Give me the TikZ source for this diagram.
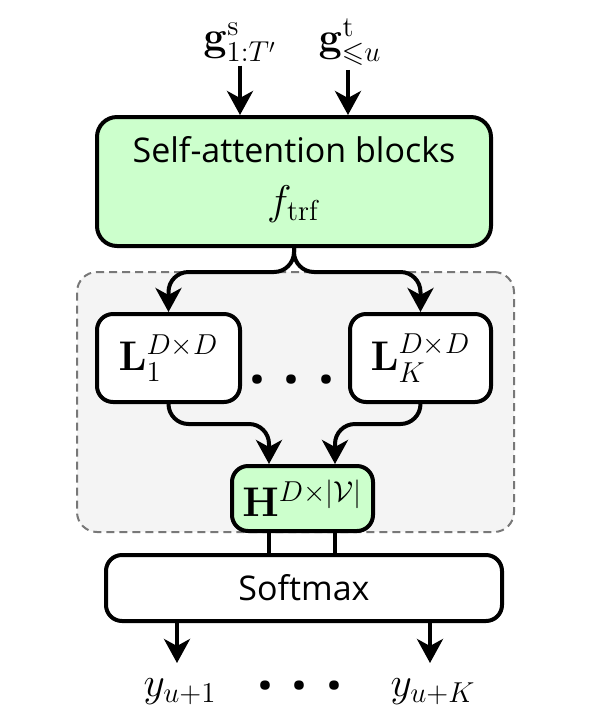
\documentclass[tikz,border=0pt]{standalone}
\usepackage{amsmath,amssymb}
\usepackage[no-math]{fontspec}
\newfontfamily\sketchfont{Open Sans}
\usetikzlibrary{arrows.meta}
\definecolor{boxgreen}{RGB}{204,255,204}
\definecolor{grpfill}{RGB}{244,244,244}
\definecolor{grpline}{RGB}{120,120,120}
\begin{document}
\begin{tikzpicture}[x=0.5pt,y=-0.5pt,
  box/.style={draw, line width=2pt, rounded corners=8pt, inner sep=0pt, fill=white},
  greenbox/.style={box, fill=boxgreen},
  arr/.style={line width=2pt, -{Stealth[length=12pt,width=13pt,inset=3.5pt]}},
  link/.style={line width=2pt},
  lbl/.style={font=\fontsize{20.5}{24}\selectfont, inner sep=2pt},
  txt/.style={font=\sketchfont\fontsize{17}{20}\selectfont},
  dotsstyle/.style={font=\sketchfont\bfseries\fontsize{28}{30}\selectfont, inner sep=1pt},
  grpbox/.style={draw=grpline, fill=grpfill, line width=1pt, dash pattern=on 4pt off 2.5pt, rounded corners=10pt}
]
\useasboundingbox (0,0) rectangle (598,714);

% group background
\node[grpbox, minimum width=218.5pt, minimum height=130pt] (grp) at (295.5,402) {};

% self-attention block
\node[greenbox, rounded corners=10pt, minimum width=197pt, minimum height=64.5pt] (trf) at (294,181.5) {};
\node[txt] (trftitle) at (294,150) {Self-attention blocks};
\node[lbl] (trfmath) at (294,204) {$f_{\mathrm{trf}}$};

% inputs
\node[lbl] (gs) at (240,42) {$\mathbf{g}^{\mathrm{s}}_{1:T'}$};
\node[lbl] (gt) at (350,42) {$\mathbf{g}^{\mathrm{t}}_{\leqslant u}$};
\draw[arr] (gs.south -| 240,0) -- (240,0 |- trf.north);
\draw[arr] (gt.south -| 348,0) -- (348,0 |- trf.north);

% L boxes
\node[box, minimum width=71.5pt, minimum height=44pt, lbl, inner sep=0pt] (L1) at (168.5,358) {$\mathbf{L}_1^{D\times D}$};
\node[box, minimum width=70.5pt, minimum height=44pt, lbl, inner sep=0pt] (LK) at (420.5,358) {$\mathbf{L}_K^{D\times D}$};
\node[dotsstyle] (ldots) at (292,380) {.\,\,.\,\,.};

\draw[arr, rounded corners=10pt] (trf.south) -- ++(0,24) -| (L1.north);
\draw[arr, rounded corners=10pt] (trf.south) -- ++(0,24) -| (LK.north);

% H box
\node[greenbox, minimum width=70.5pt, minimum height=32.5pt, lbl, inner sep=0pt] (H) at (302.5,498.5) {$\mathbf{H}^{D\times|\mathcal{V}|}$};
\draw[arr, rounded corners=10pt] (L1.south) -- ++(0,20) -| ([xshift=-16.75pt]H.north);
\draw[arr, rounded corners=10pt] (LK.south) -- ++(0,20) -| ([xshift=16.25pt]H.north);

% Softmax
\node[box, minimum width=198pt, minimum height=33pt, txt] (sm) at (304,588) {Softmax};
\draw[link] ([xshift=-16.75pt]H.south) -- ([xshift=-16.75pt]H.south |- sm.north);
\draw[link] ([xshift=16.25pt]H.south) -- ([xshift=16.25pt]H.south |- sm.north);

% outputs
\node[lbl] (y1) at (180,692) {$y_{u+1}$};
\node[lbl] (yK) at (433,692) {$y_{u+K}$};
\node[dotsstyle] (ydots) at (300,686) {.\,\,.\,\,.};
\coordinate (y1tip) at (177,663);
\coordinate (yKtip) at (430,663);
\draw[arr] (sm.south -| y1tip) -- (y1tip);
\draw[arr] (sm.south -| yKtip) -- (yKtip);
\end{tikzpicture}
\end{document}
